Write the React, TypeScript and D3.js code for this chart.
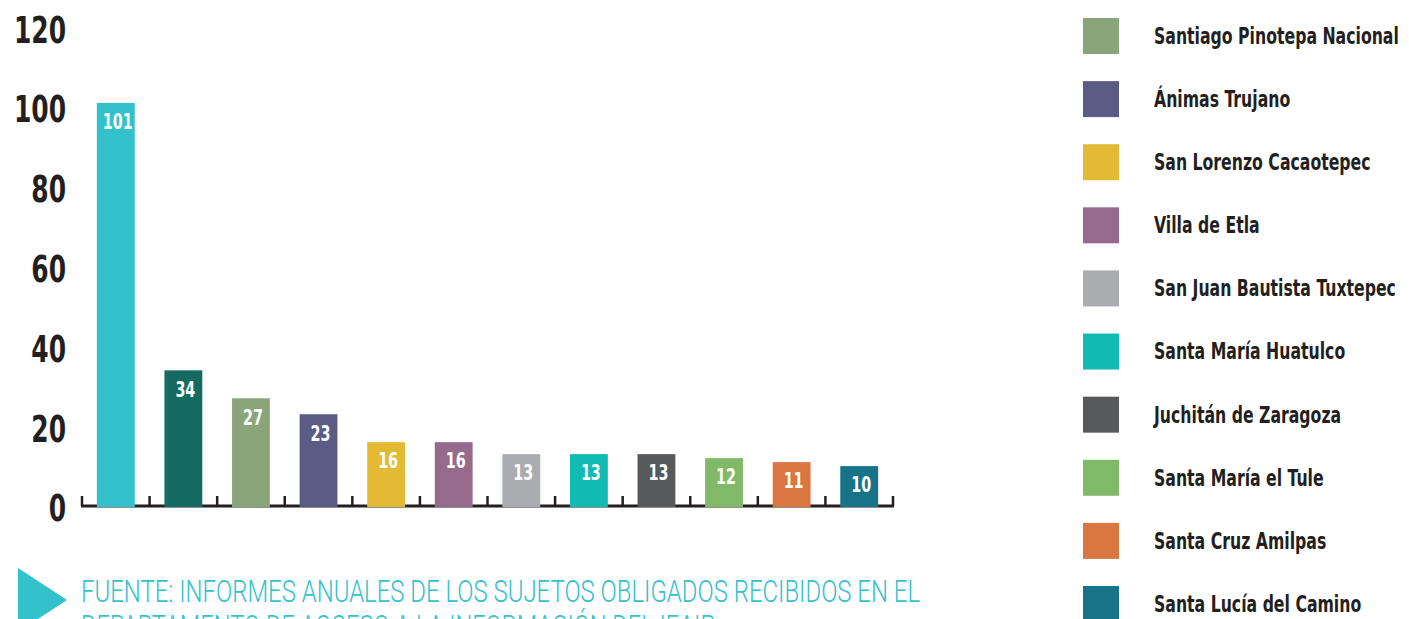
import React from "react";
import * as d3 from "d3";

const categories = [
  "Oaxaca de Juárez",
  "Santa Cruz Xoxocotlán",
  "Santiago Pinotepa Nacional",
  "Ánimas Trujano",
  "San Lorenzo Cacaotepec",
  "Villa de Etla",
  "San Juan Bautista Tuxtepec",
  "Santa María Huatulco",
  "Juchitán de Zaragoza",
  "Santa María el Tule",
  "Santa Cruz Amilpas",
  "Santa Lucía del Camino",
];
const values = [101, 34, 27, 23, 16, 16, 13, 13, 13, 12, 11, 10];
const colors = [
  "#33C1CC",
  "#156B62",
  "#8BA57B",
  "#5A5C86",
  "#E3BA33",
  "#956A8C",
  "#ABACAF",
  "#12BAB4",
  "#58595B",
  "#80BA69",
  "#D97641",
  "#177488",
];
const yTicks = [0, 20, 40, 60, 80, 100, 120];
const legendStart = 2;
const sourceLines = [
  "FUENTE: INFORMES ANUALES DE LOS SUJETOS OBLIGADOS RECIBIDOS EN EL",
  "DEPARTAMENTO DE ACCESO A LA INFORMACIÓN DEL IEAIP",
];

const W = 1409;
const H = 619;
const FONT = "'DejaVu Sans Condensed', 'DejaVu Sans', sans-serif";
const LIGHT = "Roboto, 'Open Sans', sans-serif";
const INK = "#231F20";
const SX = 0.76;

export default function App() {
  const x = d3
    .scaleBand<number>()
    .domain(d3.range(values.length))
    .range([82, 893])
    .paddingInner(0.44)
    .paddingOuter(0.22);
  const y = d3.scaleLinear().domain([0, 120]).range([506, 27.2]);
  const step = x.step();
  const tickXs = d3.range(values.length + 1).map((i) => 82 + i * step);

  const legendItems = categories.slice(legendStart).map((name, i) => ({
    name,
    color: colors[legendStart + i],
  }));
  const ly = d3.scaleLinear().domain([0, legendItems.length - 1]).range([18, 586]);

  return (
    <svg
      width={W}
      height={H}
      style={{ position: "absolute", left: 0, top: 0, background: "#fff" }}
      fontFamily={FONT}
    >
      {/* y labels */}
      {yTicks.map((t) => (
        <text
          key={t}
          transform={`translate(66, ${y(t) + 3}) scale(${SX - 0.01}, 1)`}
          textAnchor="end"
          dominantBaseline="central"
          fontSize={37}
          fontWeight="bold"
          fill={INK}
        >
          {t}
        </text>
      ))}
      {/* axis */}
      <line x1={81} x2={894} y1={506} y2={506} stroke={INK} strokeWidth={3} />
      {tickXs.map((tx, i) => (
        <line key={i} x1={tx} x2={tx} y1={496} y2={506} stroke={INK} strokeWidth={2.5} />
      ))}
      {/* bars */}
      {values.map((v, i) => (
        <g key={i}>
          <rect
            x={x(i)!}
            y={y(v)}
            width={x.bandwidth()}
            height={507 - y(v)}
            fill={colors[i]}
          />
          <text
            transform={`translate(${x(i)! + x.bandwidth() / 2 + 2}, ${y(v) + 19}) scale(${SX}, 1)`}
            textAnchor="middle"
            dominantBaseline="central"
            fontSize={21}
            fontWeight="bold"
            fill="#fff"
          >
            {v}
          </text>
        </g>
      ))}
      {/* legend */}
      {legendItems.map((d, i) => (
        <g key={d.name} transform={`translate(1083, ${ly(i)})`}>
          <rect width={36} height={36} fill={d.color} />
          <text
            transform={`translate(71, 18) scale(${SX}, 1)`}
            dominantBaseline="central"
            fontSize={23}
            fontWeight="bold"
            fill={INK}
          >
            {d.name}
          </text>
        </g>
      ))}
      {/* source */}
      <path d="M18,568 L67,600 L18,632 Z" fill="#33C1CC" />
      {sourceLines.map((s, i) => (
        <text
          key={i}
          x={81}
          y={602 + i * 35}
          fontSize={31}
          fill="#33C1CC"
          fontFamily={LIGHT}
          fontWeight={300}
          textLength={i === 0 ? 839 : 634}
          lengthAdjust="spacingAndGlyphs"
        >
          {s}
        </text>
      ))}
    </svg>
  );
}
